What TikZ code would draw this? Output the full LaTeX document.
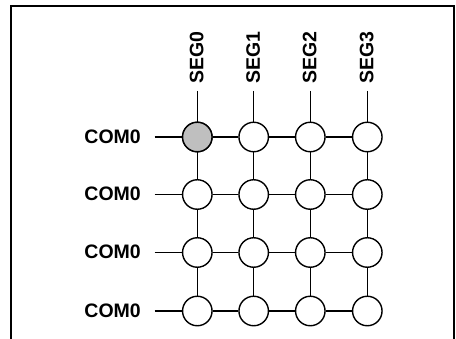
\documentclass[tikz,border=0pt]{standalone}
\usepackage{fontspec}
\setmainfont{Liberation Sans}
\begin{document}
\begin{tikzpicture}[x=1pt,y=-1pt,
  cell/.style={circle,draw=black,line width=1.4pt,fill=white,minimum size=29.5pt,inner sep=0pt},
  oncell/.style={cell,fill=black!25},
  wire/.style={line width=1.3pt},
  lbl/.style={font=\fontsize{19.5}{20}\selectfont\bfseries,inner sep=0pt},
  frame/.style={line width=2pt}]
\useasboundingbox (0,0) rectangle (456,339);
\draw[frame] (11,339) -- (11,6) -- (454,6) -- (454,339);
\def\xs{{197.3,253.7,310.3,367.3}}
\def\ys{{137,194.5,252.5,311}}
\foreach \c in {0,1,2,3}{
  \foreach \r in {0,1,2,3}{
    \pgfmathsetmacro{\xx}{\xs[\c]}
    \pgfmathsetmacro{\yy}{\ys[\r]}
    \node[cell] (n\r\c) at (\xx,\yy) {};
  }
}
\node[oncell] at (n00) {};
\foreach \c in {0,1,2,3}{
  \pgfmathsetmacro{\xx}{\xs[\c]}
  \node[lbl,rotate=90,anchor=south west] (s\c) at (\xx+6.5,83.5) {SEG\c};
  \coordinate (st\c) at (\xx,91);
  \draw[wire] (st\c) -- (n0\c);
}
\foreach \r in {0,1,2,3}{
  \pgfmathsetmacro{\yy}{\ys[\r]}
  \node[lbl,anchor=base east] (l\r) at (141,\yy+6.5) {COM0};
  \coordinate (lt\r) at (154.5,\yy);
  \draw[wire] (lt\r) -- (n\r0);
}
\foreach \r in {0,1,2,3}{
  \draw[wire] (n\r0) -- (n\r1);
  \draw[wire] (n\r1) -- (n\r2);
  \draw[wire] (n\r2) -- (n\r3);
}
\foreach \c in {0,1,2,3}{
  \draw[wire] (n0\c) -- (n1\c);
  \draw[wire] (n1\c) -- (n2\c);
  \draw[wire] (n2\c) -- (n3\c);
}
\end{tikzpicture}
\end{document}
